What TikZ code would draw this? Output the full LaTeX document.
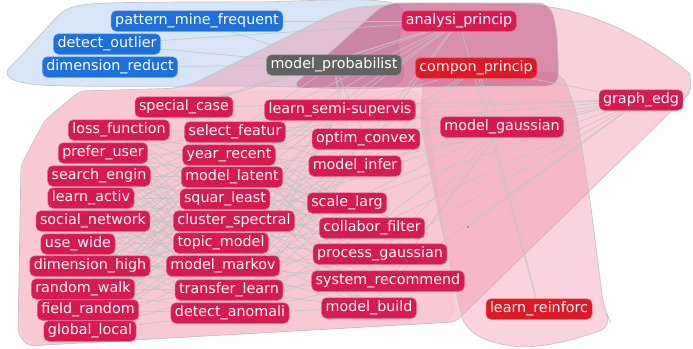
\documentclass[tikz,border=0pt]{standalone}
\usepackage{fontspec}
\setmainfont{DejaVu Sans}
\newfontfamily\tagfamily{DejaVu Sans}
\pgfdeclarelayer{zones}
\pgfdeclarelayer{links}
\pgfsetlayers{zones,links,main}

\definecolor{tagred}{RGB}{214,27,82}
\definecolor{tagscarlet}{RGB}{222,24,36}
\definecolor{tagblue}{RGB}{30,112,218}
\definecolor{taggray}{RGB}{98,98,98}
\definecolor{bluezone}{RGB}{216,229,246}
\definecolor{pinkzone}{RGB}{240,140,165}
\definecolor{mauvezone}{RGB}{185,75,125}
\definecolor{linkgray}{RGB}{196,196,196}
\definecolor{zoneline}{RGB}{196,196,202}

\begin{document}
\begin{tikzpicture}[x=1pt,y=-1pt,
  tag/.style={rounded corners=5pt, text=white,
    font=\tagfamily\fontsize{14.3}{16}\selectfont,
    inner xsep=4pt, inner ysep=0pt, text height=11pt, text depth=3.5pt,
    minimum height=20.5pt, line width=0.5pt},
  redtag/.style={tag, fill=tagred, draw=tagred!70!white},
  scarlettag/.style={tag, fill=tagscarlet, draw=tagscarlet!70!white},
  bluetag/.style={tag, fill=tagblue, draw=tagblue!70!white},
  graytag/.style={tag, fill=taggray, draw=taggray!70!white},
  link/.style={linkgray, line width=0.7pt, opacity=0.85},
  zone/.style={draw=zoneline, line width=0.7pt}]

\useasboundingbox (0,0) rectangle (693,348);

% ---------- tags: top group ----------
\node[bluetag] (patternmine) at (197,21) {pattern\_mine\_frequent};
\node[bluetag] (detectoutlier) at (107,44) {detect\_outlier};
\node[bluetag] (dimensionreduct) at (110,67) {dimension\_reduct};
\node[graytag] (modelprob) at (334,65) {model\_probabilist};
\node[redtag] (analysiprincip) at (459,21) {analysi\_princip};
\node[scarlettag] (componprincip) at (476,68) {compon\_princip};
\node[redtag] (graphedg) at (641,100) {graph\_edg};
\node[redtag] (modelgaussian) at (502,127) {model\_gaussian};
\node[scarlettag] (learnreinforc) at (539,309) {learn\_reinforc};
\node[circle, fill=black!60, inner sep=0.7pt] (dot) at (468,227) {};

% ---------- tags: left column ----------
\node[redtag] (specialcase) at (184,107) {special\_case};
\node[redtag] (lossfunction) at (119,130) {loss\_function};
\node[redtag] (preferuser) at (103,153) {prefer\_user};
\node[redtag] (searchengin) at (99,176) {search\_engin};
\node[redtag] (learnactiv) at (91,198) {learn\_activ};
\node[redtag] (socialnetwork) at (93,221) {social\_network};
\node[redtag] (usewide) at (78,244) {use\_wide};
\node[redtag] (dimensionhigh) at (90,266) {dimension\_high};
\node[redtag] (randomwalk) at (83,289) {random\_walk};
\node[redtag] (fieldrandom) at (88,310) {field\_random};
\node[redtag] (globallocal) at (90,331) {global\_local};

% ---------- tags: middle column ----------
\node[redtag] (selectfeatur) at (235,132) {select\_featur};
\node[redtag] (yearrecent) at (229,155) {year\_recent};
\node[redtag] (modellatent) at (232,177) {model\_latent};
\node[redtag] (squarleast) at (225,199) {squar\_least};
\node[redtag] (clusterspectral) at (234,221) {cluster\_spectral};
\node[redtag] (topicmodel) at (221,243) {topic\_model};
\node[redtag] (modelmarkov) at (223,266) {model\_markov};
\node[redtag] (transferlearn) at (229,290) {transfer\_learn};
\node[redtag] (detectanomali) at (230,313) {detect\_anomali};

% ---------- tags: right column ----------
\node[redtag] (learnsemi) at (340,110) {learn\_semi-supervis};
\node[redtag] (optimconvex) at (366,139) {optim\_convex};
\node[redtag] (modelinfer) at (355,166) {model\_infer};
\node[redtag] (scalelarg) at (347,203) {scale\_larg};
\node[redtag] (collaborfilter) at (372,228) {collabor\_filter};
\node[redtag] (processgaussian) at (380,254) {process\_gaussian};
\node[redtag] (systemrecommend) at (388,281) {system\_recommend};
\node[redtag] (modelbuild) at (369,308) {model\_build};

% ---------- zones ----------
\begin{pgfonlayer}{zones}
  % blue zone
  \fill[bluezone] plot[smooth cycle, tension=0.55] coordinates
    {(110,3) (250,2) (392,3) (398,45) (392,86) (250,86) (70,86) (20,82) (7,72) (22,55) (45,30) (68,9)};
  \draw[zone] plot[smooth cycle, tension=0.55] coordinates
    {(110,3) (250,2) (392,3) (398,45) (392,86) (250,86) (70,86) (20,82) (7,72) (22,55) (45,30) (68,9)};
  % large pink zone
  \path[zone, fill=pinkzone, fill opacity=0.40, rounded corners=18pt]
    (80,91) -- (185,88) -- (345,8) -- (420,3) -- (540,5)
    [rounded corners=0pt] .. controls (600,16) and (650,40) .. (690,74)
    [rounded corners=6pt] -- (691,92) -- (455,322) -- (28,346) -- (18,334) -- (21,165) -- (45,120) -- cycle;
  % node area tint
  \fill[pinkzone, opacity=0.12, rounded corners=18pt]
    (80,91) -- (425,90) -- (442,220) -- (458,322) -- (28,346) -- (18,334) -- (21,165) -- (45,120) -- cycle;
  % column zone
  \path[zone, fill=pinkzone, fill opacity=0.38, rounded corners=14pt]
    (424,72) -- (562,72) -- (576,110) -- (590,200) -- (604,310) -- (613,326)
    [rounded corners=0pt] .. controls (580,338) and (540,350) .. (512,346)
    .. controls (485,342) and (470,335) .. (462,318)
    [rounded corners=14pt] -- (440,220) -- (420,120) -- cycle;
  % mauve zone
  \path[zone, fill=mauvezone, fill opacity=0.5, rounded corners=12pt]
    (385,3) -- (550,3) -- (557,30) -- (559,86) -- (290,88) -- cycle;
\end{pgfonlayer}

% ---------- links ----------
\begin{pgfonlayer}{links}
  \foreach \a in {specialcase,lossfunction,preferuser,searchengin,learnactiv,socialnetwork,usewide,dimensionhigh,randomwalk,fieldrandom,globallocal}
    \foreach \b in {selectfeatur,yearrecent,modellatent,squarleast,clusterspectral,topicmodel,modelmarkov,transferlearn,detectanomali}
      \draw[link] (\a) -- (\b);
  \foreach \a in {selectfeatur,yearrecent,modellatent,squarleast,clusterspectral,topicmodel,modelmarkov,transferlearn,detectanomali}
    \foreach \b in {learnsemi,optimconvex,modelinfer,scalelarg,collaborfilter,processgaussian,systemrecommend,modelbuild}
      \draw[link] (\a) -- (\b);
  \foreach \b in {modelgaussian,learnsemi,optimconvex,modelinfer,scalelarg,collaborfilter,processgaussian,systemrecommend,specialcase,selectfeatur,componprincip,dot}
    \draw[link] (graphedg) -- (\b);
  \foreach \b in {learnsemi,specialcase,selectfeatur,optimconvex,modelinfer,yearrecent,modellatent,learnreinforc,modelprob,patternmine,detectoutlier,lossfunction}
    \draw[link] (analysiprincip) -- (\b);
  \foreach \b in {learnreinforc,modelgaussian,learnsemi,optimconvex,modelinfer}
    \draw[link] (componprincip) -- (\b);
  \foreach \b in {learnsemi,optimconvex,modelinfer,scalelarg,collaborfilter,processgaussian,systemrecommend,modelbuild,clusterspectral,selectfeatur}
    \draw[link] (modelgaussian) -- (\b);
  \foreach \b in {learnsemi,specialcase,selectfeatur,optimconvex,modelinfer,dimensionreduct,patternmine,detectoutlier}
    \draw[link] (modelprob) -- (\b);
\end{pgfonlayer}
\end{tikzpicture}
\end{document}
